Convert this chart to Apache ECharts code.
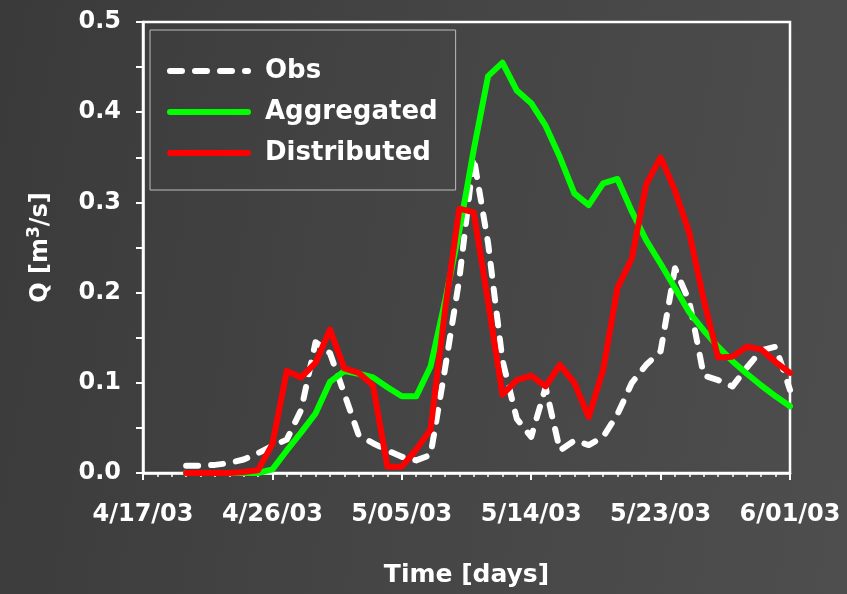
<!DOCTYPE html>
<html>
<head>
<meta charset="utf-8">
<script src="https://cdn.jsdelivr.net/npm/echarts@6/dist/echarts.min.js"></script>
<style>
html,body{margin:0;padding:0;}
#chart{width:847px;height:594px;background:linear-gradient(100deg,#3a3a3a 0%,#444444 45%,#4e4e4e 100%);}
</style>
</head>
<body>
<div id="chart"></div>
<script>
// Tick labels every 9 days starting 4/17/03 (day 0)
const tickLabels = ['4/17/03', '4/26/03', '5/05/03', '5/14/03', '5/23/03', '6/01/03'];
// Series start on day 3 (4/20/03) and run daily to day 45 (6/01/03)
const firstDay = 3;
const obs = [0.008, 0.008, 0.009, 0.011, 0.015, 0.022, 0.030, 0.037, 0.070, 0.145,
  0.133, 0.088, 0.042, 0.033, 0.025, 0.018, 0.014, 0.020, 0.115, 0.215,
  0.350, 0.255, 0.125, 0.060, 0.040, 0.095, 0.025, 0.036, 0.031, 0.040,
  0.065, 0.100, 0.120, 0.135, 0.227, 0.190, 0.108, 0.103, 0.096, 0.117,
  0.136, 0.140, 0.092];
const aggregated = [0, 0, 0, 0, 0, 0, 0.004, 0.025, 0.045, 0.066,
  0.101, 0.113, 0.110, 0.106, 0.095, 0.085, 0.085, 0.118, 0.190, 0.268,
  0.358, 0.440, 0.455, 0.424, 0.410, 0.385, 0.350, 0.310, 0.297, 0.321,
  0.326, 0.290, 0.258, 0.232, 0.205, 0.178, 0.158, 0.140, 0.124, 0.110,
  0.097, 0.085, 0.074];
const distributed = [0, 0, 0, 0, 0.001, 0.003, 0.032, 0.113, 0.106, 0.122,
  0.159, 0.116, 0.111, 0.097, 0.007, 0.007, 0.026, 0.048, 0.180, 0.293,
  0.289, 0.190, 0.087, 0.103, 0.108, 0.096, 0.120, 0.100, 0.062, 0.114,
  0.205, 0.238, 0.320, 0.350, 0.313, 0.266, 0.192, 0.128, 0.129, 0.140,
  0.137, 0.123, 0.111];

const toPairs = arr => arr.map((v, i) => [firstDay + i, v]);
const FONT = '"DejaVu Sans", "Liberation Sans", Arial, sans-serif';

const chart = echarts.init(document.getElementById('chart'), null, {renderer: 'canvas'});
chart.setOption({
  backgroundColor: 'transparent',
  animation: false,
  grid: {
    left: 143, right: 57, top: 22, bottom: 121,
    show: true, borderColor: '#ffffff', borderWidth: 2.5,
    backgroundColor: 'transparent'
  },
  legend: {
    orient: 'vertical',
    left: 150, top: 30,
    padding: [28, 18, 24, 17],
    borderColor: '#bdbdbd', borderWidth: 1,
    itemWidth: 78, itemHeight: 26, itemGap: 15,
    itemStyle: {opacity: 0},
    lineStyle: {width: 6, cap: 'round'},
    textStyle: {color: '#ffffff', fontSize: 26, fontWeight: 'bold', fontFamily: FONT, padding: [0, 0, 0, 12], lineHeight: 26},
    data: ['Obs', 'Aggregated', 'Distributed']
  },
  xAxis: {
    type: 'value', min: 0, max: 45, interval: 9,
    name: 'Time [days]', nameLocation: 'middle', nameGap: 90,
    nameTextStyle: {color: '#ffffff', fontSize: 25, fontWeight: 'bold', fontFamily: FONT},
    axisLine: {show: true, onZero: false, lineStyle: {color: '#ffffff', width: 2.5}},
    axisTick: {show: true, inside: false, length: 7, lineStyle: {color: '#ffffff', width: 2}},
    minorTick: {show: true, splitNumber: 9, length: 4, lineStyle: {color: '#ffffff', width: 1.5}},
    splitLine: {show: false},
    minorSplitLine: {show: false},
    axisLabel: {
      color: '#ffffff', fontSize: 24, fontWeight: 'bold', fontFamily: FONT, margin: 30,
      formatter: v => tickLabels[Math.round(v / 9)] || ''
    }
  },
  yAxis: {
    type: 'value', min: 0, max: 0.5, interval: 0.1,
    name: '{a|Q [m}{s|3}{a|/s]}', nameLocation: 'middle', nameGap: 88, nameRotate: 90,
    nameTextStyle: {
      color: '#ffffff', fontFamily: FONT, fontWeight: 'bold',
      rich: {
        a: {color: '#ffffff', fontSize: 24, fontWeight: 'bold', fontFamily: FONT},
        s: {color: '#ffffff', fontSize: 17, fontWeight: 'bold', fontFamily: FONT, verticalAlign: 'top', padding: [0, 0, 12, 0]}
      }
    },
    axisLine: {show: true, lineStyle: {color: '#ffffff', width: 2.5}},
    axisTick: {show: true, inside: false, length: 7, lineStyle: {color: '#ffffff', width: 2}},
    minorTick: {show: true, splitNumber: 2, length: 7, lineStyle: {color: '#ffffff', width: 2}},
    splitLine: {show: false},
    minorSplitLine: {show: false},
    axisLabel: {
      color: '#ffffff', fontSize: 24, fontWeight: 'bold', fontFamily: FONT, margin: 22,
      formatter: v => v.toFixed(1)
    }
  },
  series: [
    {
      name: 'Obs', type: 'line', data: toPairs(obs), symbol: 'none', z: 2,
      lineStyle: {color: '#ffffff', width: 6, type: [12, 13], cap: 'round', join: 'round'},
      itemStyle: {color: '#ffffff'}
    },
    {
      name: 'Aggregated', type: 'line', data: toPairs(aggregated), symbol: 'none', z: 3,
      lineStyle: {color: '#00ff00', width: 6, cap: 'round', join: 'round'},
      itemStyle: {color: '#00ff00'}
    },
    {
      name: 'Distributed', type: 'line', data: toPairs(distributed), symbol: 'none', z: 4,
      lineStyle: {color: '#ff0000', width: 6, cap: 'round', join: 'round'},
      itemStyle: {color: '#ff0000'}
    }
  ]
});
</script>
</body>
</html>
